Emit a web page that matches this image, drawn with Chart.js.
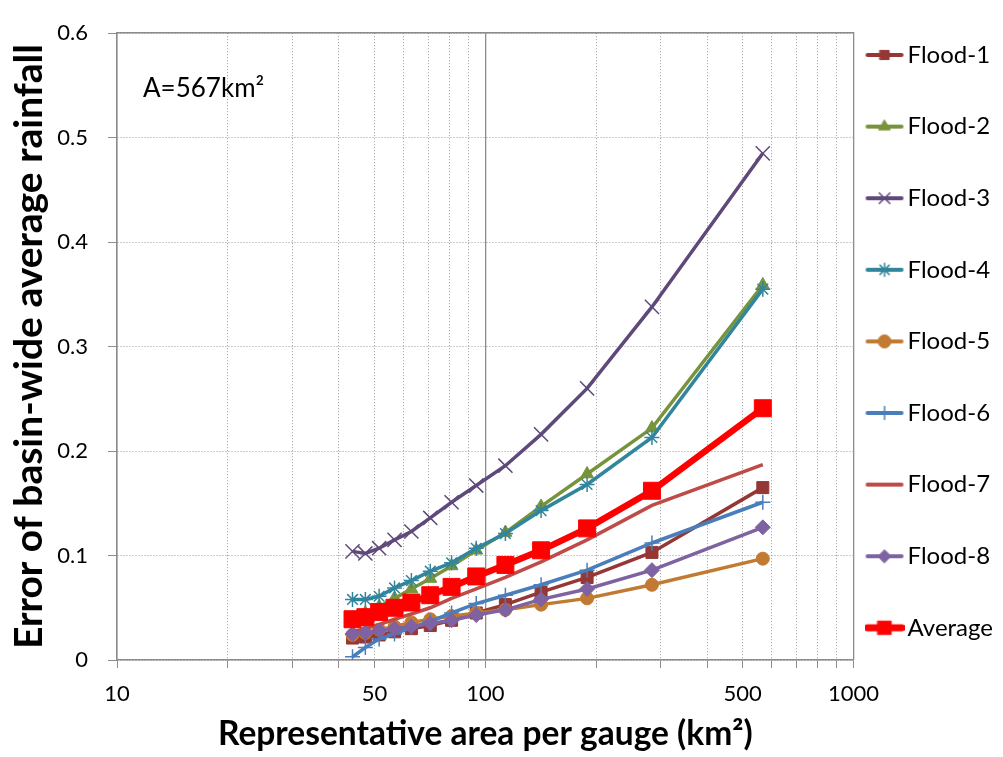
<!DOCTYPE html>
<html>
<head>
<meta charset="utf-8">
<script src="https://cdn.jsdelivr.net/npm/chart.js@4.4.1/dist/chart.umd.min.js"></script>
<style>
html,body{margin:0;padding:0;background:#fff;}
#wrap{width:1003px;height:757px;position:relative;}
</style>
</head>
<body>
<div id="wrap"><canvas id="c" width="1003" height="757"></canvas></div>
<script>
// ---------- data ----------
const areas   = [43.6, 47.25, 51.5, 56.7, 63, 70.9, 81, 94.5, 113.4, 141.75, 189, 283.5, 567];
const flood1  = [0.021, 0.022, 0.024, 0.027, 0.030, 0.033, 0.038, 0.045, 0.053, 0.065, 0.079, 0.103, 0.165];
const flood2  = [0.040, 0.045, 0.051, 0.059, 0.068, 0.078, 0.090, 0.105, 0.122, 0.147, 0.178, 0.222, 0.359];
const flood3  = [0.104, 0.102, 0.107, 0.115, 0.123, 0.136, 0.151, 0.167, 0.186, 0.216, 0.260, 0.338, 0.485];
const flood4  = [0.058, 0.058, 0.061, 0.069, 0.076, 0.085, 0.093, 0.107, 0.121, 0.143, 0.168, 0.213, 0.355];
const flood5  = [0.024, 0.026, 0.029, 0.032, 0.036, 0.039, 0.042, 0.045, 0.048, 0.053, 0.059, 0.072, 0.097];
const flood6  = [0.003, 0.012, 0.020, 0.025, 0.031, 0.037, 0.045, 0.054, 0.062, 0.072, 0.086, 0.112, 0.151];
const flood7  = [0.027, 0.030, 0.034, 0.039, 0.044, 0.050, 0.059, 0.068, 0.079, 0.094, 0.115, 0.148, 0.187];
const flood8  = [0.025, 0.026, 0.028, 0.030, 0.032, 0.035, 0.038, 0.043, 0.048, 0.058, 0.068, 0.086, 0.127];
const average = [0.039, 0.041, 0.046, 0.050, 0.055, 0.062, 0.070, 0.080, 0.091, 0.105, 0.126, 0.162, 0.241];

const seriesNames  = ['Flood-1','Flood-2','Flood-3','Flood-4','Flood-5','Flood-6','Flood-7','Flood-8','Average'];
const seriesValues = [flood1, flood2, flood3, flood4, flood5, flood6, flood7, flood8, average];

const xTickValues  = [10,20,30,40,50,60,70,80,90,100,200,300,400,500,600,700,800,900,1000];
const xLabelValues = [10,50,100,500,1000];
const xMajorValues = [10,100,1000];
const yMin = 0, yMax = 0.6, yStep = 0.1;

const xTitle = 'Representative area per gauge (km²)';
const yTitle = 'Error of basin-wide average rainfall';
const noteText = 'A=567km²';

// ---------- styles ----------
const styles = [
  {color:'#953735', width:3.5, point:'rect',     r:8.5, bw:1,   lr:6.5},
  {color:'#77933C', width:3.5, point:'triangle', r:7.5, bw:1,   lr:6.5},
  {color:'#5F497A', width:3.5, point:'crossRot', r:10,  bw:1.5, lr:7.5},
  {color:'#31859C', width:3.5, point:'star',     r:7.5, bw:1.5, lr:6.5},
  {color:'#C27A33', width:3.5, point:'circle',   r:6.5, bw:1,   lr:6.5},
  {color:'#4A7EBB', width:3.5, point:'cross',    r:7.5, bw:1.5, lr:6.5},
  {color:'#BE4B48', width:3.5, point:false,      r:0,   bw:0,   lr:0},
  {color:'#7E62A1', width:3.5, point:'rectRot',  r:7.5, bw:1,   lr:6.5},
  {color:'#FF0000', width:6.5, point:'rect',     r:12,  bw:1,   lr:9.5}
];

function legendImage(s) {
  const c = document.createElement('canvas');
  c.width = 40; c.height = 24;
  const g = c.getContext('2d');
  g.strokeStyle = s.color; g.lineWidth = s.width + 0.5; g.lineCap = 'round';
  g.beginPath(); g.moveTo(3, 12); g.lineTo(37, 12); g.stroke();
  if (s.point) {
    g.fillStyle = s.color; g.strokeStyle = s.color; g.lineWidth = s.bw;
    Chart.helpers.drawPoint(g, {pointStyle: s.point, radius: s.lr, rotation: 0, borderWidth: s.bw}, 20, 12);
  }
  return c;
}
const legendImgs = styles.map(legendImage);

const datasets = seriesNames.map((name, i) => {
  const s = styles[i];
  return {
    label: name,
    data: areas.map((a, k) => ({x: a, y: seriesValues[i][k]})),
    borderColor: s.color,
    backgroundColor: s.color,
    borderWidth: s.width,
    pointStyle: s.point || 'circle',
    pointRadius: s.r,
    pointHoverRadius: s.r,
    pointBorderWidth: s.bw,
    pointBorderColor: s.color,
    pointBackgroundColor: s.color,
    tension: 0,
    order: seriesNames.length - 1 - i
  };
});

const notePlugin = {
  id: 'note',
  afterDraw(chart) {
    const ctx = chart.ctx;
    ctx.save();
    ctx.font = '26px Lato';
    ctx.fillStyle = '#000';
    ctx.textBaseline = 'middle';
    ctx.textAlign = 'left';
    ctx.fillText(noteText, chart.chartArea.left + 26, chart.chartArea.top + 55);
    ctx.restore();
  }
};

const gridGray = '#999999';
const axisGray = '#8c8c8c';

new Chart(document.getElementById('c'), {
  type: 'line',
  data: {datasets},
  plugins: [notePlugin],
  options: {
    responsive: false,
    animation: false,
    devicePixelRatio: 1,
    layout: {padding: {top: 18, right: 0, bottom: 0, left: 0}},
    plugins: {
      tooltip: {enabled: false},
      legend: {
        position: 'right',
        align: 'start',
        maxWidth: 151,
        title: {display: true, text: '', font: {size: 1, lineHeight: 1}, padding: {top: 0, bottom: 4}},
        labels: {
          usePointStyle: true,
          pointStyleWidth: 22,
          padding: 20,
          color: '#000',
          font: {family: 'Lato', size: 24, lineHeight: '51.6px'},
          generateLabels: () => seriesNames.map((n, i) => ({
            text: [n], pointStyle: legendImgs[i], fillStyle: 'rgba(0,0,0,0)',
            strokeStyle: 'rgba(0,0,0,0)', lineWidth: 0, hidden: false, datasetIndex: i, fontColor: '#000'
          }))
        }
      }
    },
    scales: {
      x: {
        type: 'logarithmic', position: 'bottom', min: 10, max: 1000,
        afterBuildTicks: s => { s.ticks = xTickValues.map(v => ({value: v})); },
        afterFit: s => { s.height = 97; },
        ticks: {
          autoSkip: false, maxRotation: 0, minRotation: 0, padding: 13, color: '#000',
          font: {family: 'Lato', size: 22},
          callback: v => xLabelValues.includes(v) ? String(v) : ''
        },
        grid: {
          color: c => (c.tick && xMajorValues.includes(c.tick.value)) ? 'rgba(0,0,0,0)' : gridGray,
          lineWidth: 1, tickLength: 8, tickColor: axisGray, tickWidth: 1
        },
        border: {display: true, color: axisGray, width: 1.5, dash: [1, 2]},
        title: {display: true, text: xTitle, color: '#000', font: {family: 'Lato', size: 33.5, weight: 'bold'}, padding: {top: 0, bottom: 3}}
      },
      x2: {
        type: 'logarithmic', position: 'top', min: 10, max: 1000,
        afterBuildTicks: s => { s.ticks = xMajorValues.map(v => ({value: v})); },
        afterFit: s => { s.height = 0; },
        ticks: {display: false},
        grid: {color: axisGray, lineWidth: 1.3, drawTicks: false},
        border: {display: true, color: axisGray, width: 1.5}
      },
      y: {
        min: yMin, max: yMax,
        afterFit: s => { s.width = 117; },
        ticks: {stepSize: yStep, padding: 20, color: '#000', font: {family: 'Lato', size: 22}},
        grid: {color: gridGray, lineWidth: 1, tickLength: 9, tickColor: axisGray, tickWidth: 1},
        border: {display: true, color: axisGray, width: 1.5, dash: [1, 2]},
        title: {display: true, text: yTitle, color: '#000', font: {family: 'Lato', size: 39, weight: 'bold'}, padding: {top: 6, bottom: 0}}
      }
    }
  }
});
</script>
</body>
</html>
